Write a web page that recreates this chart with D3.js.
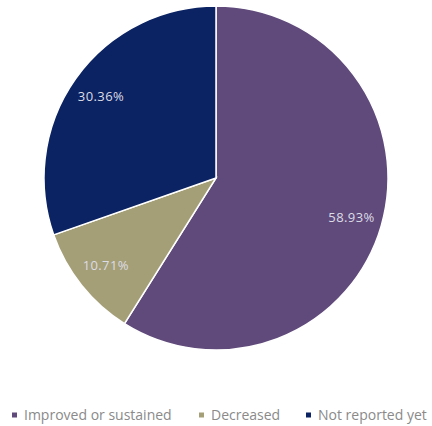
<!DOCTYPE html>
<html>
<head>
<meta charset="utf-8">
<script src="https://cdn.jsdelivr.net/npm/d3@7"></script>
<style>
  body { margin: 0; background: #fff; }
  svg { display: block; }
</style>
</head>
<body>
<div id="chart"></div>
<script>
// chart data
let categories = ["Improved or sustained", "Decreased", "Not reported yet"];
let values = [58.93, 10.71, 30.36];
let labels = ["58.93%", "10.71%", "30.36%"];
let colors = ["#604a7b", "#a59f77", "#0b2362"];

let width = 432, height = 426;
let cx = 216, cy = 178, radius = 172;

let svg = d3.select("#chart").append("svg")
    .attr("width", width)
    .attr("height", height);

let pie = d3.pie().sort(null).value(function(d) { return d; });
let arcs = pie(values);

let arc = d3.arc().innerRadius(0).outerRadius(radius);
let labelArc = d3.arc().innerRadius(141).outerRadius(141);

let g = svg.append("g")
    .attr("transform", "translate(" + cx + "," + cy + ")");

// slices
g.selectAll("path")
    .data(arcs)
    .enter().append("path")
    .attr("d", arc)
    .attr("fill", function(d, i) { return colors[i]; })
    .attr("stroke", "#fff")
    .attr("stroke-width", 1.5);

// data labels
g.selectAll("text")
    .data(arcs)
    .enter().append("text")
    .attr("transform", function(d) { return "translate(" + labelArc.centroid(d) + ")"; })
    .attr("text-anchor", "middle")
    .attr("dy", "0.35em")
    .style("font-family", "'Open Sans', sans-serif")
    .style("font-size", "13px")
    .style("letter-spacing", "0.4px")
    .style("fill", "#dcdce6")
    .text(function(d, i) { return labels[i]; });

// legend
let legendX = [12, 199, 306];
let legend = svg.append("g")
    .attr("transform", "translate(0,415)");

let item = legend.selectAll("g")
    .data(categories)
    .enter().append("g")
    .attr("transform", function(d, i) { return "translate(" + legendX[i] + ",0)"; });

item.append("rect")
    .attr("x", 0)
    .attr("y", -2.5)
    .attr("width", 5)
    .attr("height", 5)
    .attr("fill", function(d, i) { return colors[i]; });

item.append("text")
    .attr("x", 12)
    .attr("dy", "0.35em")
    .style("font-family", "'Open Sans', sans-serif")
    .style("font-size", "14px")
    .style("fill", "#8a8a8a")
    .text(function(d) { return d; });
</script>
</body>
</html>
